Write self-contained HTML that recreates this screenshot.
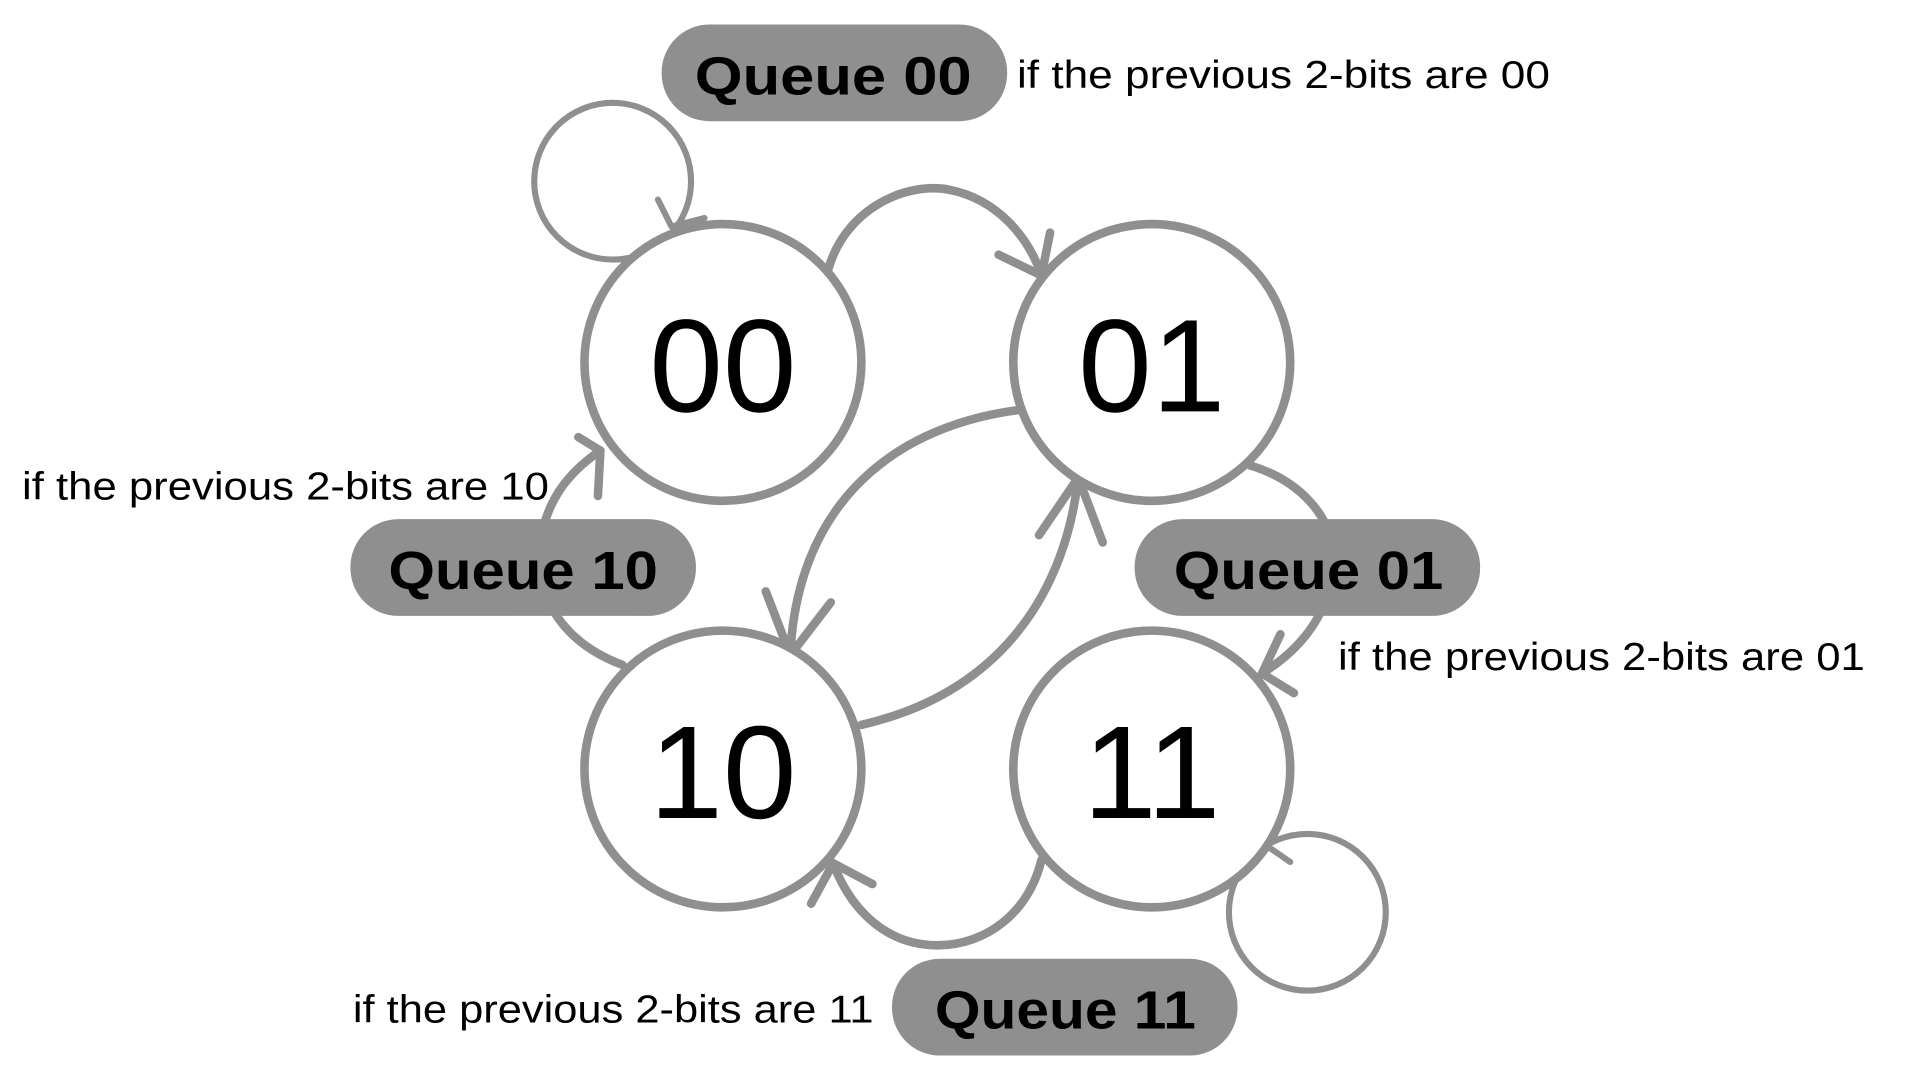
<!DOCTYPE html>
<html><head><meta charset="utf-8"><style>
html,body{margin:0;padding:0;background:#fff;width:1920px;height:1080px;overflow:hidden}
svg{display:block}
text{font-family:"Liberation Sans",sans-serif}
</style></head><body>
<svg width="1920" height="1080" viewBox="0 0 1567 882" preserveAspectRatio="none">
<g fill="none" stroke="#8f8f8f" stroke-linecap="round" stroke-linejoin="round">
<circle cx="500" cy="148" r="64" stroke-width="5"/>
<path d="M537,163 L548,185 L575,178" stroke-width="5"/>
<circle cx="1067" cy="745" r="64" stroke-width="5"/>
<path d="M1043,665 L1027,686 L1053,704" stroke-width="5"/>
<g stroke-width="7">
<path d="M676,220 C690,170 740,148 775,155 C815,163 840,195 850,225"/>
<path d="M815,208 L850,225 L857,190"/>
<path d="M830,335 C720,350 650,420 645,535"/>
<path d="M625,483 L645,535 L678,492"/>
<path d="M703,592 C820,565 870,480 880,390"/>
<path d="M848,437 L880,390 L900,443"/>
<path d="M1020,380 C1060,392 1085,420 1088,450 C1090,490 1070,525 1030,550"/>
<path d="M1045,518 L1030,550 L1056,566"/>
<path d="M508,543 C460,525 440,490 440,455 C442,410 465,385 490,368"/>
<path d="M472,357 L490,368 L488,405"/>
<path d="M850,702 C840,745 805,772 765,772 C725,772 695,745 680,705"/>
<path d="M662,738 L680,705 L712,722"/>
</g>
<g stroke-width="7" fill="#fff">
<circle cx="590" cy="296" r="113"/>
<circle cx="940" cy="296" r="113"/>
<circle cx="590" cy="628" r="113"/>
<circle cx="940" cy="628" r="113"/>
</g>
</g>
<g fill="#000" font-size="108" text-anchor="middle">
<text x="590" y="336">00</text>
<text x="940" y="336">01</text>
<text x="590" y="668">10</text>
<text x="940" y="668">11</text>
</g>
<g fill="#8f8f8f">
<rect x="540" y="20" width="282" height="79" rx="39"/>
<rect x="286" y="424" width="282" height="79" rx="39"/>
<rect x="926" y="424" width="282" height="79" rx="39"/>
<rect x="728" y="783" width="282" height="79" rx="39"/>
</g>
<g fill="#000" font-size="44" font-weight="bold">
<text x="567" y="77" textLength="226" lengthAdjust="spacingAndGlyphs">Queue 00</text>
<text x="317" y="481" textLength="220" lengthAdjust="spacingAndGlyphs">Queue 10</text>
<text x="958" y="481" textLength="220" lengthAdjust="spacingAndGlyphs">Queue 01</text>
<text x="763" y="840" textLength="213" lengthAdjust="spacingAndGlyphs">Queue 11</text>
</g>
<g fill="#000" font-size="32">
<text x="830" y="72" textLength="435" lengthAdjust="spacingAndGlyphs">if the previous 2-bits are 00</text>
<text x="18" y="408" textLength="430" lengthAdjust="spacingAndGlyphs">if the previous 2-bits are 10</text>
<text x="1092" y="547" textLength="430" lengthAdjust="spacingAndGlyphs">if the previous 2-bits are 01</text>
<text x="288" y="835" textLength="425" lengthAdjust="spacingAndGlyphs">if the previous 2-bits are 11</text>
</g>
</svg>
</body></html>
